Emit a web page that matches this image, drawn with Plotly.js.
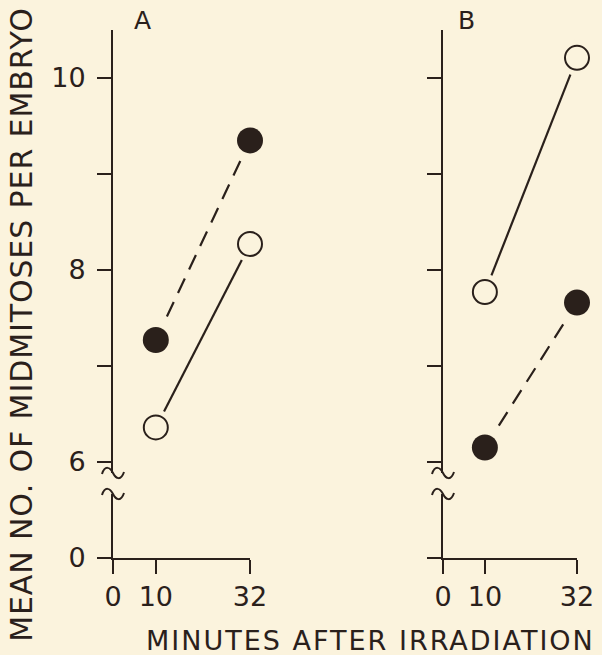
<!DOCTYPE html>
<html><head><meta charset="utf-8">
<script src="https://cdn.plot.ly/plotly-3.0.1.min.js"></script>
<style>
html,body{margin:0;padding:0;background:#FBF3DD}
g.annotation[data-index="2"] text{letter-spacing:2px}
g.annotation[data-index="3"] text{letter-spacing:0.9px}
</style>
</head><body><div id="chart" style="width:602px;height:655px"></div>
<script>
// ---- data ----
const minutes = [10, 32];
const panelA_filled = [7.27, 9.35];   // filled circles, dashed line
const panelA_open   = [6.36, 8.27];   // open circles, solid line
const panelB_open   = [7.77, 10.21];  // open circles, solid line
const panelB_filled = [6.15, 7.66];   // filled circles, dashed line
const xTickVals = [0, 10, 32];
const xTickText = ['0', '10', '32'];
const yTickVals = [6, 7, 8, 9, 10];
const yTickTextA = ['6', '', '8', '', '10'];
const yTickTextB = ['', '', '', '', ''];
const lowTickVals = [0];
const lowTickTextA = ['0'];
const lowTickTextB = [''];

const INK = '#2a201b';
const BG = '#FBF3DD';
const FONT = 'DejaVu Sans';

function series(x, y, xa, ya, filled) {
  return [
    {x: x, y: y, xaxis: xa, yaxis: ya, mode: 'lines', cliponaxis: false,
     line: {color: INK, width: 2.2, dash: filled ? '16px,10px' : 'solid'}, hoverinfo: 'skip'},
    {x: x, y: y, xaxis: xa, yaxis: ya, mode: 'markers', cliponaxis: false,
     marker: {size: 36, color: BG, line: {width: 0}}, hoverinfo: 'skip'},
    {x: x, y: y, xaxis: xa, yaxis: ya, mode: 'markers', cliponaxis: false,
     marker: filled ? {size: 26, color: INK, line: {width: 0}}
                    : {size: 24, color: BG, line: {width: 2, color: INK}}}
  ];
}

// empty traces so the lower (broken) axis segments exist as subplots
const lowerA = {x: [], y: [], xaxis: 'x', yaxis: 'y2', mode: 'markers', hoverinfo: 'skip'};
const lowerB = {x: [], y: [], xaxis: 'x2', yaxis: 'y4', mode: 'markers', hoverinfo: 'skip'};

const data = [lowerA, lowerB].concat(
  series(minutes, panelA_filled, 'x', 'y', true),
  series(minutes, panelA_open, 'x', 'y', false),
  series(minutes, panelB_open, 'x2', 'y3', false),
  series(minutes, panelB_filled, 'x2', 'y3', true)
);

const W = 602, H = 655;
const upDom = [(H - 473) / H, (H - 30) / H];
const lowDom = [(H - 558) / H, (H - 494) / H];
const upRange = [5.885, 10.5];
const xDomA = [113 / W, 250 / W];
const xDomB = [443 / W, 577 / W];

const axisCommon = {
  showline: true, linecolor: INK, linewidth: 2, ticks: 'outside', ticklen: 14,
  tickwidth: 2, tickcolor: INK, showgrid: false, zeroline: false, fixedrange: true,
  tickfont: {family: FONT, size: 27, color: INK}
};

function xa(dom, anchor) {
  return Object.assign({}, axisCommon, {domain: dom, range: [0, 32], anchor: anchor,
    tickmode: 'array', tickvals: xTickVals, ticktext: xTickText, ticklabelstandoff: 0});
}
function ya(dom, range, anchor, vals, text) {
  return Object.assign({}, axisCommon, {domain: dom, range: range, anchor: anchor,
    tickmode: 'array', tickvals: vals, ticktext: text, ticklabelstandoff: 6});
}

function squiggle(xAnchor, yAnchor) {
  return {type: 'path', xref: 'paper', yref: 'paper', xsizemode: 'pixel', ysizemode: 'pixel',
    xanchor: xAnchor, yanchor: yAnchor,
    path: 'M-11,-1 C-8,8 -3,6 0,0 S8,-8 11,1',
    line: {color: INK, width: 2}};
}

const layout = {
  width: W, height: H, margin: {l: 0, r: 0, t: 0, b: 0},
  paper_bgcolor: BG, plot_bgcolor: 'rgba(0,0,0,0)', showlegend: false,
  xaxis: xa(xDomA, 'y2'),
  xaxis2: xa(xDomB, 'y4'),
  yaxis: ya(upDom, upRange, 'x', yTickVals, yTickTextA),
  yaxis2: ya(lowDom, [0, 1], 'x', lowTickVals, lowTickTextA),
  yaxis3: ya(upDom, upRange, 'x2', yTickVals, yTickTextB),
  yaxis4: ya(lowDom, [0, 1], 'x2', lowTickVals, lowTickTextB),
  shapes: [
    squiggle(xDomA[0], upDom[0]), squiggle(xDomA[0], lowDom[1]),
    squiggle(xDomB[0], upDom[0]), squiggle(xDomB[0], lowDom[1])
  ],
  annotations: [
    {text: 'A', xref: 'paper', yref: 'paper', x: 142 / W, y: (H - 20) / H,
     xanchor: 'center', yanchor: 'middle',
     showarrow: false, font: {family: FONT, size: 25, color: INK}},
    {text: 'B', xref: 'paper', yref: 'paper', x: 466 / W, y: (H - 20) / H,
     xanchor: 'center', yanchor: 'middle',
     showarrow: false, font: {family: FONT, size: 25, color: INK}},
    {text: 'MINUTES AFTER IRRADIATION', xref: 'paper', yref: 'paper',
     x: 370 / W, y: (H - 640) / H, xanchor: 'center', yanchor: 'middle', showarrow: false,
     font: {family: FONT, size: 27, color: INK}},
    {text: 'MEAN NO. OF MIDMITOSES PER EMBRYO', xref: 'paper', yref: 'paper',
     x: 21 / W, y: (H - 325) / H, xanchor: 'center', yanchor: 'middle',
     textangle: -90, showarrow: false,
     font: {family: FONT, size: 30, color: INK}}
  ]
};

Plotly.newPlot('chart', data, layout, {displayModeBar: false, staticPlot: true});
</script></body></html>
